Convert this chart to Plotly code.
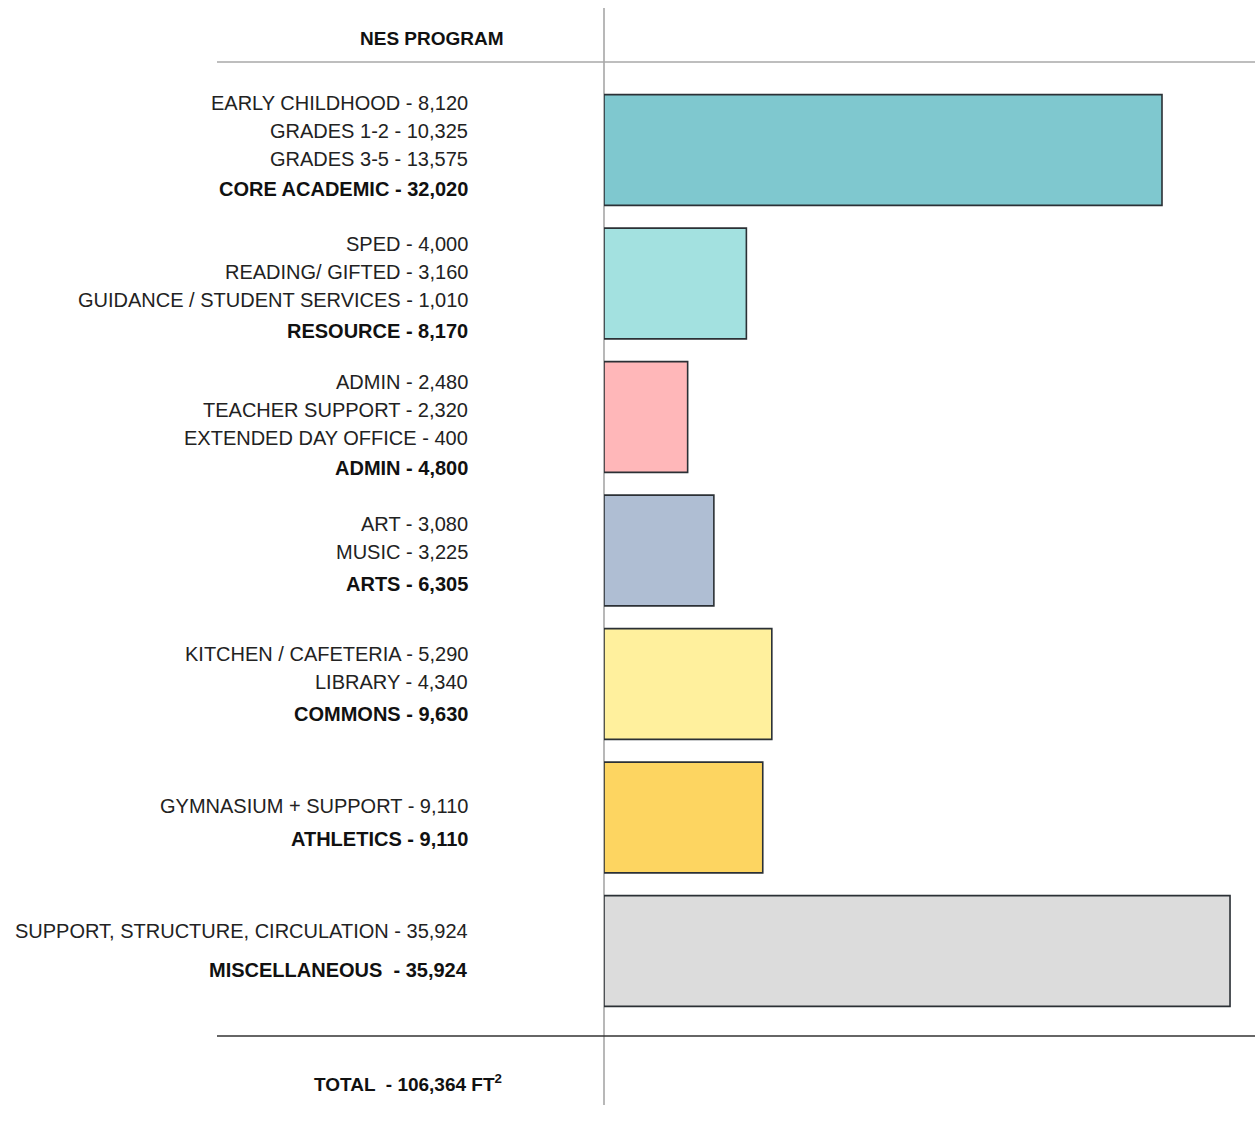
import plotly.graph_objects as go

W, H = 1255, 1133

groups = ["CORE ACADEMIC", "RESOURCE", "ADMIN", "ARTS", "COMMONS", "ATHLETICS", "MISCELLANEOUS"]
totals = [32020, 8170, 4800, 6305, 9630, 9110, 35924]
total_labels = ["CORE ACADEMIC - 32,020", "RESOURCE - 8,170", "ADMIN - 4,800", "ARTS - 6,305",
                "COMMONS - 9,630", "ATHLETICS - 9,110", "MISCELLANEOUS  - 35,924"]
sub_items = [
    ["EARLY CHILDHOOD - 8,120", "GRADES 1-2 - 10,325", "GRADES 3-5 - 13,575"],
    ["SPED - 4,000", "READING/ GIFTED - 3,160", "GUIDANCE / STUDENT SERVICES - 1,010"],
    ["ADMIN - 2,480", "TEACHER SUPPORT - 2,320", "EXTENDED DAY OFFICE - 400"],
    ["ART - 3,080", "MUSIC - 3,225"],
    ["KITCHEN / CAFETERIA - 5,290", "LIBRARY - 4,340"],
    ["GYMNASIUM + SUPPORT - 9,110"],
    ["SUPPORT, STRUCTURE, CIRCULATION - 35,924"],
]
colors = ["#7fc8cf", "#a3e1e0", "#ffb7b9", "#afbed3", "#fff09d", "#fdd561", "#dcdcdc"]
header = "NES PROGRAM"
grand_total = "TOTAL  - 106,364 FT<sup>2</sup>"

FONT = "Liberation Sans, Arial, sans-serif"


def px_x(p):
    return p / W


def px_y(p):
    return 1 - p / H


# geometry (in screen pixels)
x0_px = 604
px_per_unit = (1162 - 604) / 32020
x_max = (W - x0_px) / px_per_unit
first_center = 150
step = 133.5
y_top = -first_center / step
y_bot = (H - first_center) / step

# label layout tweaks (pixels): nudge of each text block, gap before bold line
label_nudge = [-4, 3.5, 7.5, 3.5, -0.5, 5, -1]
bold_gap_px = [30, 31, 30, 32, 32, 33, 39]
line_gap_px = 28

idx = list(range(len(groups)))

fig = go.Figure()
fig.add_trace(go.Bar(
    x=totals, y=idx, orientation="h",
    marker=dict(color=colors, line=dict(color="#2b3035", width=1.6)),
    width=0.83, hoverinfo="x",
))

ann = []
for i in idx:
    lines = sub_items[i]
    n = len(lines)
    block = (n - 1) * line_gap_px + bold_gap_px[i]
    start = i + (-block / 2 + label_nudge[i]) / step
    for k, t in enumerate(lines):
        ann.append(dict(x=px_x(470), xref="paper", y=start + k * line_gap_px / step, yref="y",
                        text=t, showarrow=False, xanchor="right", yanchor="middle",
                        font=dict(family=FONT, size=20, color="#222")))
    ann.append(dict(x=px_x(470), xref="paper",
                    y=start + ((n - 1) * line_gap_px + bold_gap_px[i]) / step, yref="y",
                    text="<b>" + total_labels[i] + "</b>", showarrow=False,
                    xanchor="right", yanchor="middle",
                    font=dict(family=FONT, size=20, color="#111")))

ann.append(dict(x=px_x(432), xref="paper", y=px_y(38), yref="paper", text="<b>" + header + "</b>",
                showarrow=False, xanchor="center", yanchor="middle",
                font=dict(family=FONT, size=19, color="#111")))
ann.append(dict(x=px_x(408), xref="paper", y=px_y(1083), yref="paper", text="<b>" + grand_total + "</b>",
                showarrow=False, xanchor="center", yanchor="middle",
                font=dict(family=FONT, size=19, color="#111")))

shapes = [
    dict(type="line", xref="paper", yref="paper", x0=px_x(x0_px), x1=px_x(x0_px),
         y0=px_y(8), y1=px_y(1105), line=dict(color="#a0a0a0", width=1.5), layer="below"),
    dict(type="line", xref="paper", yref="paper", x0=px_x(217), x1=1,
         y0=px_y(62), y1=px_y(62), line=dict(color="#a8a8a8", width=1.5)),
    dict(type="line", xref="paper", yref="paper", x0=px_x(217), x1=1,
         y0=px_y(1036), y1=px_y(1036), line=dict(color="#333", width=1.5)),
]

fig.update_layout(
    width=W, height=H, margin=dict(l=0, r=0, t=0, b=0),
    paper_bgcolor="white", plot_bgcolor="white", showlegend=False,
    xaxis=dict(domain=[px_x(x0_px), 1], range=[0, x_max], visible=False),
    yaxis=dict(domain=[0, 1], range=[y_bot, y_top], visible=False),
    annotations=ann, shapes=shapes,
)

fig.write_html("out.html", config={"displayModeBar": False},
               post_script="document.body.style.margin='0';document.body.style.overflow='hidden';")
